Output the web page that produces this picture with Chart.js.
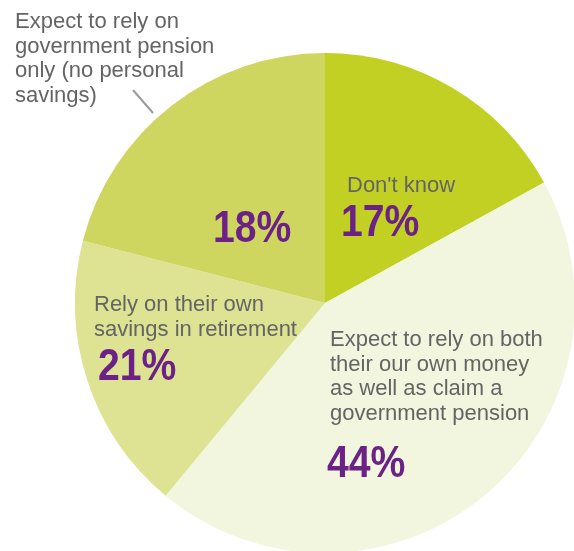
<!DOCTYPE html>
<html>
<head>
    <title>Retirement income expectations</title>
    <script src="https://cdn.jsdelivr.net/npm/chart.js"></script>
    <style>
        body {
            margin: 0;
            background: #ffffff;
            overflow: hidden;
        }
        .chart-wrap {
            position: absolute;
            left: 0;
            top: 0;
            width: 600px;
            height: 560px;
        }
    </style>
</head>
<body>
    <div class="chart-wrap">
        <canvas id="pensionPie"></canvas>
    </div>

    <script>
        // slices clockwise from 12 o'clock; sizes
        const categories = [
            "Don't know",
            'Expect to rely on both their our own money as well as claim a government pension',
            'Rely on their own savings in retirement',
            'Expect to rely on government pension only (no personal savings)'
        ];
        const sliceValues = [17, 44, 18, 21];
        // percentages as printed on the chart
        const printedPct = ['17%', '44%', '21%', '18%'];
        const sliceColors = ['#c2d023', '#f3f6df', '#dde392', '#cfd660'];

        // label text, split in lines
        const labelLines = [
            ["Don't know"],
            ['Expect to rely on both', 'their our own money', 'as well as claim a', 'government pension'],
            ['Rely on their own', 'savings in retirement'],
            ['Expect to rely on', 'government pension', 'only (no personal', 'savings)']
        ];

        const GREY = '#646464';
        const PURPLE = '#6b2186';

        // where each label block sits: left x, first baseline, pct baseline
        const labelPos = [
            { x: 347, y: 192, px: 341, py: 236 },
            { x: 330, y: 346, px: 327, py: 477 },
            { x: 94,  y: 311, px: 98,  py: 380 },
            { x: 15,  y: 28,  px: 213, py: 242 }
        ];

        const labelPlugin = {
            id: 'labelPlugin',
            afterDraw(chart) {
                const ctx = chart.ctx;
                ctx.save();
                ctx.textAlign = 'left';
                ctx.textBaseline = 'alphabetic';

                // leader line for the top-left label
                ctx.strokeStyle = '#9a9a9a';
                ctx.lineWidth = 2;
                ctx.beginPath();
                ctx.moveTo(133, 90);
                ctx.lineTo(153, 113);
                ctx.stroke();

                labelLines.forEach((lines, i) => {
                    const p = labelPos[i];
                    ctx.fillStyle = GREY;
                    ctx.font = '22px "Liberation Sans", Arial, sans-serif';
                    lines.forEach((line, j) => {
                        ctx.fillText(line, p.x, p.y + j * 24.6);
                    });

                    ctx.save();
                    ctx.fillStyle = PURPLE;
                    ctx.font = 'bold 45px "Liberation Sans", Arial, sans-serif';
                    ctx.translate(p.px, p.py);
                    ctx.scale(0.87, 1);
                    ctx.fillText(printedPct[i], 0, 0);
                    ctx.restore();
                });
                ctx.restore();
            }
        };

        new Chart(document.getElementById('pensionPie'), {
            type: 'pie',
            data: {
                labels: categories,
                datasets: [{
                    data: sliceValues,
                    backgroundColor: sliceColors,
                    borderWidth: 0
                }]
            },
            options: {
                responsive: true,
                maintainAspectRatio: false,
                animation: false,
                layout: {
                    padding: { left: 75, top: 53, right: 25, bottom: 7 }
                },
                plugins: {
                    legend: { display: false },
                    tooltip: { enabled: false }
                }
            },
            plugins: [labelPlugin]
        });
    </script>
</body>
</html>
